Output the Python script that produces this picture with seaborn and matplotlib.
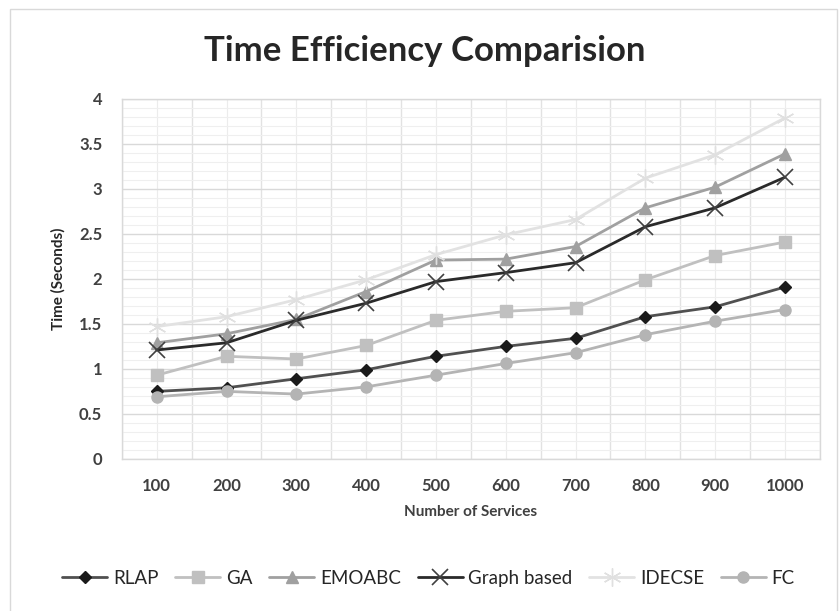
import matplotlib
matplotlib.use("Agg")
import matplotlib.pyplot as plt
import seaborn as sns
import pandas as pd
import numpy as np
from matplotlib.ticker import FixedLocator, MultipleLocator
from matplotlib.patches import Rectangle

services = [100, 200, 300, 400, 500, 600, 700, 800, 900, 1000]
rlap = [0.75, 0.79, 0.89, 0.99, 1.14, 1.25, 1.34, 1.58, 1.69, 1.91]
ga = [0.93, 1.14, 1.11, 1.26, 1.54, 1.64, 1.68, 1.99, 2.26, 2.41]
emoabc = [1.29, 1.39, 1.55, 1.86, 2.21, 2.22, 2.36, 2.79, 3.02, 3.39]
graph_based = [1.21, 1.29, 1.54, 1.73, 1.97, 2.07, 2.18, 2.58, 2.79, 3.13]
idecse = [1.47, 1.58, 1.77, 1.99, 2.27, 2.49, 2.66, 3.12, 3.38, 3.79]
fc = [0.69, 0.75, 0.72, 0.80, 0.93, 1.06, 1.18, 1.38, 1.53, 1.66]

series_names = ["RLAP", "GA", "EMOABC", "Graph based", "IDECSE", "FC"]
series_values = [rlap, ga, emoabc, graph_based, idecse, fc]

y_ticks = [0, 0.5, 1, 1.5, 2, 2.5, 3, 3.5, 4]
y_tick_labels = ["0", "0.5", "1", "1.5", "2", "2.5", "3", "3.5", "4"]

styles = {
    "RLAP": dict(color="#505050", marker="D", mfc="#1a1a1a", mec="#1a1a1a", ms=6, mew=1),
    "GA": dict(color="#c0c0c0", marker="s", mfc="#c0c0c0", mec="#c0c0c0", ms=8, mew=1),
    "EMOABC": dict(color="#a0a0a0", marker="^", mfc="#a0a0a0", mec="#a0a0a0", ms=9, mew=1),
    "Graph based": dict(color="#2a2a2a", marker="x", mfc="#2a2a2a", mec="#404040", ms=11, mew=1.2),
    "IDECSE": dict(color="#e2e2e2", marker=(6, 2, 0), mfc="none", mec="#e0e0e0", ms=13, mew=1),
    "FC": dict(color="#b4b4b4", marker="o", mfc="#b4b4b4", mec="#b4b4b4", ms=8, mew=1),
}

sns.set_theme(style="white")
plt.rcParams["font.family"] = ["Lato", "DejaVu Sans"]

fig = plt.figure(figsize=(8.4, 6.11), dpi=100)
ax = fig.add_axes([0.145, 0.249, 0.831, 0.589])

for name, vals in zip(series_names, series_values):
    st = styles[name]
    df = pd.DataFrame({"Number of Services": services, "Time": vals})
    sns.lineplot(data=df, x="Number of Services", y="Time", ax=ax,
                 color=st["color"], marker=st["marker"], markersize=st["ms"],
                 markerfacecolor=st["mfc"], markeredgecolor=st["mec"],
                 markeredgewidth=st["mew"], linewidth=2, label=name)

ax.set_xlim(50, 1050)
ax.set_ylim(0, 4)
ax.xaxis.set_major_locator(FixedLocator(services))
ax.set_xticklabels([str(s) for s in services])
ax.yaxis.set_major_locator(FixedLocator(y_ticks))
ax.set_yticklabels(y_tick_labels)
ax.yaxis.set_minor_locator(MultipleLocator(0.1))

ax.set_axisbelow(True)
ax.grid(which="minor", axis="y", color="#efefef", linewidth=0.8)
ax.grid(which="major", axis="y", color="#d9d9d9", linewidth=1)
for xb in np.arange(50, 1051, 100):
    ax.axvline(xb, color="#e2e2e2", linewidth=1, zorder=0)
for xc in services:
    ax.axvline(xc, color="#ececec", linewidth=0.8, zorder=0)

for s in ax.spines.values():
    s.set_color("#d9d9d9")
    s.set_linewidth(1)

ax.tick_params(axis="both", which="both", length=0, labelsize=12, labelcolor="#404040")
for lab in ax.get_xticklabels():
    lab.set_fontweight("bold")
for lab in ax.get_yticklabels():
    lab.set_fontweight("bold")
ax.tick_params(axis="x", pad=14)
ax.tick_params(axis="y", pad=14)

ax.set_xlabel("Number of Services", fontsize=11, fontweight="bold", color="#404040", labelpad=8)
ax.set_ylabel("Time (Seconds)", fontsize=11, fontweight="bold", color="#262626", labelpad=10)

fig.text(0.506, 0.917, "Time Efficiency Comparision", ha="center", va="center",
         fontsize=25, fontweight="bold", color="#262626")

ax.legend(loc="center", bbox_to_anchor=(0.51, 0.054), bbox_transform=fig.transFigure,
          ncol=6, frameon=False, fontsize=13.5, handlelength=2.4, handletextpad=0.3,
          columnspacing=0.9)

fig.patches.append(Rectangle((0.012, -0.05), 0.985, 1.036, transform=fig.transFigure,
                             fill=False, edgecolor="#d9d9d9", linewidth=1))

fig.savefig("out.png", dpi=100, facecolor="white")
